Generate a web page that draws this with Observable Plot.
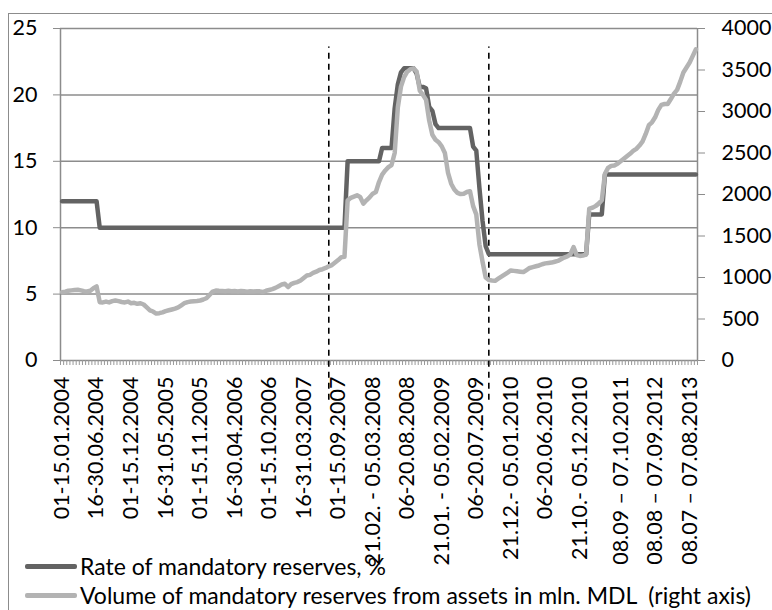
<!DOCTYPE html>
<html>
<head>
<meta charset="utf-8">
<script src="https://cdn.jsdelivr.net/npm/d3@7"></script>
<script src="https://cdn.jsdelivr.net/npm/@observablehq/plot@0.6"></script>
<style>
  body { margin: 0; background: #fff; }
  #wrap { position: relative; width: 772px; height: 610px; overflow: hidden; font-family: Lato, "Open Sans", sans-serif; }
  #frame { position: absolute; left: 8px; top: 13px; width: 780px; height: 620px; border: 1.5px solid #8c8c8c; pointer-events: none; }
  .leg { position: absolute; left: 25px; display: flex; align-items: center; height: 26px; font-size: 23px; line-height: 26px; color: #000; white-space: pre; }
  .sw { display: inline-block; width: 52px; height: 5px; border-radius: 2px; margin-right: 3px; }
</style>
</head>
<body>
<div id="wrap">
  <div id="chart"></div>
  <div id="frame"></div>
  <div class="leg" style="top:553px"><span class="sw" style="background:#636363"></span>Rate of mandatory reserves, %</div>
  <div class="leg" style="top:582px"><span class="sw" style="background:#b3b3b3"></span>Volume of mandatory reserves from assets in mln. MDL  (right axis)</div>
</div>
<script>
// Rate of mandatory reserves, % (one value per period, 203 periods)
const rate = [
  12,12,12,12,12,12,12,12,12,12,12,12,
  10,10,10,10,10,10,10,10,10,10,10,10,10,10,10,10,10,10,10,10,
  10,10,10,10,10,10,10,10,10,10,10,10,10,10,10,10,10,10,10,10,
  10,10,10,10,10,10,10,10,10,10,10,10,10,10,10,10,10,10,10,10,
  10,10,10,10,10,10,10,10,10,10,10,10,10,10,10,10,10,10,10,
  15,15,15,15,15,15,15,15,15,15,15,
  16,16,16,16,
  19,20.8,21.7,22,22,22,22,21.6,20.6,20.6,20.5,19.1,18.8,17.8,
  17.5,17.5,17.5,17.5,17.5,17.5,17.5,17.5,17.5,17.5,17.5,
  16.1,15.8,13,10.5,8.6,
  8,8,8,8,8,8,8,8,8,8,8,8,8,8,8,8,8,8,8,8,8,8,8,8,8,8,8,8,8,8,8,8,
  11,11,11,11,11,
  14,14,14,14,14,14,14,14,14,14,14,14,14,14,14,14,14,14,14,14,14,14,14,14,14,14,14,14,14,14
];
// Volume of mandatory reserves from assets, mln. MDL (right axis)
const volume = [
  823,830,840,845,850,852,845,835,831,840,
  870,892,703,700,710,700,715,723,715,705,
  700,710,690,695,683,690,675,640,605,590,
  565,570,580,595,605,615,625,640,665,690,
  703,710,715,718,723,735,750,790,831,843,
  840,838,835,840,835,836,832,838,835,830,
  835,831,835,833,825,840,850,860,875,895,
  915,924,885,920,935,945,965,995,1024,1032,
  1055,1070,1090,1100,1115,1135,1150,1180,1210,1245,
  1250,1928,1960,1975,1990,1970,1890,1930,1965,2010,
  2030,2150,2240,2290,2330,2355,2500,3050,3300,3414,
  3480,3510,3520,3480,3250,3200,3140,2890,2720,2660,
  2630,2580,2500,2260,2130,2060,2020,2005,2010,2030,
  2040,1860,1760,1400,1190,1000,970,964,960,985,
  1010,1035,1060,1085,1080,1075,1070,1065,1090,1115,
  1125,1135,1145,1160,1170,1175,1180,1190,1200,1220,
  1240,1255,1280,1366,1270,1260,1265,1275,1830,1840,
  1860,1890,1930,2250,2320,2345,2350,2370,2400,2430,
  2460,2490,2525,2550,2590,2640,2730,2835,2870,2930,
  3020,3080,3090,3090,3150,3215,3260,3360,3470,3530,
  3590,3670,3750
];
// Period labels and the period index at which each is printed
const tickLabels = [
  "01-15.01.2004","16-30.06.2004","01-15.12.2004","16-31.05.2005","01-15.11.2005",
  "16-30.04.2006","01-15.10.2006","16-31.03.2007","01-15.09.2007","21.02. - 05.03.2008",
  "06-20.08.2008","21.01. - 05.02.2009","06-20.07.2009","21.12.- 05.01.2010","06-20.06.2010",
  "21.10.- 05.12.2010","08.09 \u2013 07.10.2011","08.08 \u2013 07.09.2012","08.07 \u2013 07.08.2013"
];
const tickIndex = [0,11,22,33,44,55,66,77,88,99,110,121,132,143,154,165,178,189,200];
// Periods marked with dashed vertical lines
const markers = [85, 136];
const leftTicks = [0,5,10,15,20,25];
const rightTicks = [0,500,1000,1500,2000,2500,3000,3500,4000];
const leftMax = 25, rightMax = 4000;

const n = rate.length;
const table = rate.map((r, i) => ({i, rate: r, vol: volume[i]}));
const toLeft = v => v * leftMax / rightMax;
const grid = "#8c8c8c";

const chart = Plot.plot({
  width: 772,
  height: 610,
  marginLeft: 60,
  marginRight: 75,
  marginTop: 28,
  marginBottom: 250,
  style: {fontFamily: "Lato, 'Open Sans', sans-serif", fontSize: "21.5px", color: "#000", background: "transparent", overflow: "visible"},
  x: {type: "linear", domain: [-0.5, n - 0.5], label: null},
  y: {domain: [0, leftMax], label: null},
  marks: [
    Plot.ruleY(leftTicks.filter(d => d > 0), {stroke: grid, strokeWidth: 1.5}),
    Plot.ruleY([0], {stroke: grid, strokeWidth: 1.5}),
    Plot.ruleX([-0.5, n - 0.5], {y1: 0, y2: leftMax, stroke: grid, strokeWidth: 1.5}),
    Plot.axisX(d3.range(-0.5, n, 1), {tickSize: 5, stroke: "#999", tickFormat: () => "", label: null}),
    Plot.axisX(tickIndex, {tickSize: 0, tickPadding: 16, tickRotate: -90, fill: "#000", label: null, tickFormat: d => tickLabels[tickIndex.indexOf(d)]}),
    Plot.axisY(leftTicks, {anchor: "left", tickSize: 7, tickPadding: 16, stroke: grid, fill: "#000", label: null}),
    Plot.axisY(rightTicks.map(toLeft), {anchor: "right", tickSize: 7, tickPadding: 17, stroke: grid, fill: "#000", label: null, tickFormat: d => String(Math.round(d * rightMax / leftMax))}),
    Plot.ruleX(markers, {y1: -3, y2: 23.6, stroke: "#000", strokeWidth: 1.6, strokeDasharray: "6,5"}),
    Plot.line(table, {x: "i", y: "rate", stroke: "#636363", strokeWidth: 4.5}),
    Plot.line(table, {x: "i", y: d => toLeft(d.vol), stroke: "#b3b3b3", strokeWidth: 4.5})
  ]
});
document.getElementById("chart").appendChild(chart);
</script>
</body>
</html>
